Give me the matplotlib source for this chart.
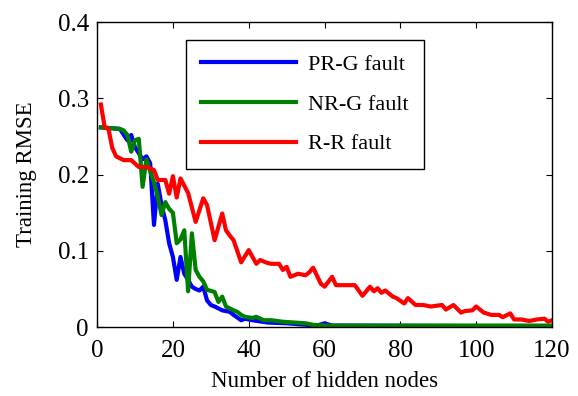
import matplotlib
matplotlib.use("Agg")
import matplotlib.pyplot as plt

plt.rcParams['font.family'] = ['Liberation Serif', 'DejaVu Serif']
plt.rcParams['mathtext.fontset'] = 'stix'

# Data
pr_x = [1, 6, 8, 9, 10, 12, 13, 14, 15, 16, 17, 18, 19, 20, 21, 22, 23, 24, 25, 26, 27, 28, 29, 30, 31, 33, 35, 36, 38, 39, 41, 45, 50, 55, 58, 60, 62, 120]
pr_y = [0.262, 0.26, 0.245, 0.252, 0.236, 0.22, 0.224, 0.215, 0.134, 0.188, 0.16, 0.14, 0.11, 0.092, 0.062, 0.092, 0.07, 0.062, 0.053, 0.05, 0.048, 0.053, 0.035, 0.029, 0.027, 0.022, 0.02, 0.016, 0.009, 0.011, 0.009, 0.006, 0.005, 0.003, 0.002, 0.005, 0.002, 0.001]

nr_x = [1, 6, 7, 8, 9, 10, 11, 12, 13, 14, 15, 16, 17, 18, 19, 20, 21, 22, 23, 24, 25, 26, 27, 28, 29, 31, 32, 33, 34, 36, 37, 38, 39, 41, 42, 44, 46, 49, 55, 57, 60, 120]
nr_y = [0.262, 0.26, 0.258, 0.252, 0.23, 0.245, 0.247, 0.184, 0.22, 0.205, 0.19, 0.171, 0.147, 0.164, 0.155, 0.15, 0.11, 0.115, 0.127, 0.047, 0.123, 0.075, 0.066, 0.06, 0.049, 0.046, 0.033, 0.04, 0.027, 0.022, 0.02, 0.016, 0.0135, 0.012, 0.0135, 0.009, 0.009, 0.007, 0.005, 0.003, 0.002, 0.002]

rr_x = [1, 2, 3, 4, 5, 7, 9, 11, 13, 15, 16, 18, 19, 20, 21, 22, 24, 26, 28, 29, 31, 33, 34, 35, 36, 38, 40, 42, 43, 45, 46, 48, 49, 50, 51, 53, 55, 56, 57, 59, 60, 62, 63, 68, 70, 72, 73, 74, 75, 76, 78, 79, 81, 82, 84, 86, 88, 91, 92, 94, 96, 97, 99, 100, 102, 104, 106, 107, 109, 110, 112, 114, 116, 118, 119, 120]
rr_y = [0.292, 0.262, 0.26, 0.235, 0.224, 0.219, 0.219, 0.21, 0.21, 0.206, 0.193, 0.193, 0.175, 0.198, 0.17, 0.195, 0.176, 0.138, 0.169, 0.16, 0.114, 0.149, 0.127, 0.12, 0.114, 0.085, 0.101, 0.083, 0.088, 0.084, 0.083, 0.083, 0.075, 0.079, 0.066, 0.07, 0.068, 0.072, 0.078, 0.057, 0.053, 0.066, 0.055, 0.055, 0.041, 0.053, 0.047, 0.051, 0.045, 0.048, 0.04, 0.038, 0.031, 0.038, 0.029, 0.029, 0.027, 0.029, 0.023, 0.029, 0.019, 0.021, 0.022, 0.027, 0.019, 0.016, 0.016, 0.013, 0.018, 0.01, 0.01, 0.008, 0.01, 0.011, 0.007, 0.009]

labels = ['PR-G fault', 'NR-G fault', 'R-R fault']
colors = ['#0000ff', '#008000', '#ff0000']
xticks = [0, 20, 40, 60, 80, 100, 120]
yticks = [0, 0.1, 0.2, 0.3, 0.4]
yticklabels = ['0', '0.1', '0.2', '0.3', '0.4']

fig = plt.figure(figsize=(5.78, 3.96), dpi=100)
ax = fig.add_axes([0.168, 0.174, 0.787, 0.770])

for xs, ys, lab, c in zip([pr_x, nr_x, rr_x], [pr_y, nr_y, rr_y], labels, colors):
    ax.plot(xs, ys, color=c, lw=3, label=lab)

ax.set_xlim(0, 120)
ax.set_ylim(0, 0.4)
ax.set_xticks(xticks)
ax.set_yticks(yticks)
ax.set_yticklabels(yticklabels)
ax.tick_params(direction='in', top=True, right=True, length=4, width=0.8, labelsize=18)
ax.tick_params(axis='x', pad=9)
ax.tick_params(axis='y', pad=6)
for s in ax.spines.values():
    s.set_linewidth(1.0)
ax.set_xlabel('Number of hidden nodes', fontsize=16.5, labelpad=7)
ax.set_ylabel('Training RMSE', fontsize=16.5, labelpad=15)

leg = ax.legend(loc='upper left', bbox_to_anchor=(0.196, 0.941), borderaxespad=0,
                fontsize=16, frameon=True, fancybox=False, edgecolor='black',
                framealpha=1, handlelength=4.3, handletextpad=0.55,
                labelspacing=0.86, borderpad=0.65)
leg.get_frame().set_linewidth(1.0)

fig.savefig('out.png', dpi=100)
